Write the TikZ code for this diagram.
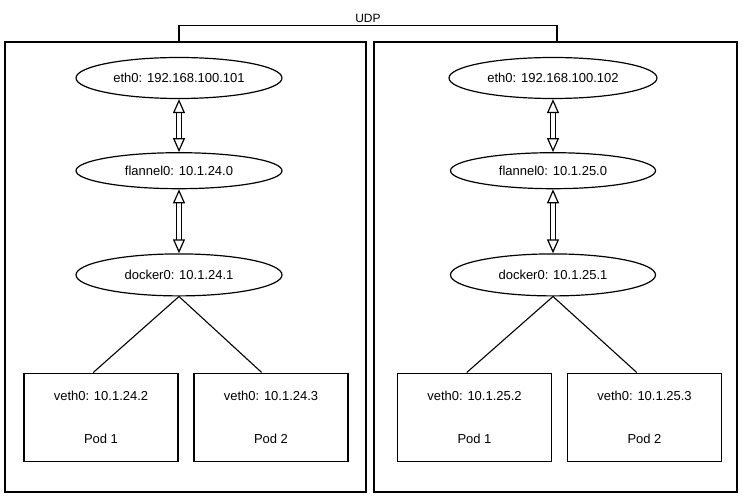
\documentclass[tikz,border=0pt]{standalone}
\usepackage{fontspec}
\setmainfont{Liberation Sans}
\usetikzlibrary{
  arrows.meta,
  shapes.geometric,
  positioning,
  calc
}
\tikzset{
  host/.style={draw, line width=1.4pt, minimum width=361pt, minimum height=450pt},
  iface/.style={
    draw, ellipse, line width=1.2pt, minimum width=206pt, minimum height=41pt,
    inner sep=0pt, font=\fontsize{13}{15}\selectfont
  },
  pod/.style={
    draw, line width=1.3pt, minimum width=154pt, minimum height=88pt,
    align=center, font=\fontsize{13}{15}\selectfont
  },
  tunnel/.style={
    double, double distance=3.5pt, line width=1.1pt,
    {Triangle[open, length=14pt, width=12pt, line width=1.2pt]}-{Triangle[open, length=14pt, width=12pt, line width=1.2pt]}
  },
  link/.style={line width=1.1pt},
  tag/.style={font=\fontsize{12}{14}\selectfont, inner sep=2pt}
}
\begin{document}
\begin{tikzpicture}[x=1pt, y=1pt]
  \useasboundingbox (0,0) rectangle (742,499);
  \node[host] (hostA) at (185.5,232) {};
  \node[host, minimum width=363pt] (hostB) at (555.5,232) {};

  \node[iface] (ethA) at (179,421) {eth0: 192.168.100.101};
  \node[iface, minimum height=36pt, below=53pt of ethA] (flanA) {flannel0: 10.1.24.0};
  \node[iface, minimum height=42pt, below=64pt of flanA] (dockA) {docker0: 10.1.24.1};
  \node[pod, below=76pt of dockA, xshift=-78pt] (podA1) {veth0: 10.1.24.2\\[28pt]Pod 1};
  \node[pod, below=76pt of dockA, xshift=92pt] (podA2) {veth0: 10.1.24.3\\[28pt]Pod 2};

  \node[iface, minimum width=208pt] (ethB) at (553,421) {eth0: 192.168.100.102};
  \node[iface, minimum width=205pt, minimum height=36pt, below=53pt of ethB] (flanB) {flannel0: 10.1.25.0};
  \node[iface, minimum width=205pt, minimum height=42pt, below=64pt of flanB] (dockB) {docker0: 10.1.25.1};
  \node[pod, below=76pt of dockB, xshift=-78.5pt] (podB1) {veth0: 10.1.25.2\\[28pt]Pod 1};
  \node[pod, below=76pt of dockB, xshift=91.5pt] (podB2) {veth0: 10.1.25.3\\[28pt]Pod 2};

  \draw[tunnel] (ethA) -- (flanA);
  \draw[tunnel] (flanA) -- (dockA);
  \draw[tunnel] (ethB) -- (flanB);
  \draw[tunnel] (flanB) -- (dockB);

  \draw[link] (dockA.south) -- ($(podA1.north west)!.45!(podA1.north east)$);
  \draw[link] (dockA.south) -- ($(podA2.north west)!.44!(podA2.north east)$);
  \draw[link] (dockB.south) -- ($(podB1.north west)!.45!(podB1.north east)$);
  \draw[link] (dockB.south) -- ($(podB2.north west)!.45!(podB2.north east)$);

  \draw[link] (ethA.center |- hostA.north) -- ++(0,16) -| ([xshift=4pt]ethB.center |- hostB.north)
    node[tag, pos=.25, above] (udp) {UDP};
\end{tikzpicture}
\end{document}
